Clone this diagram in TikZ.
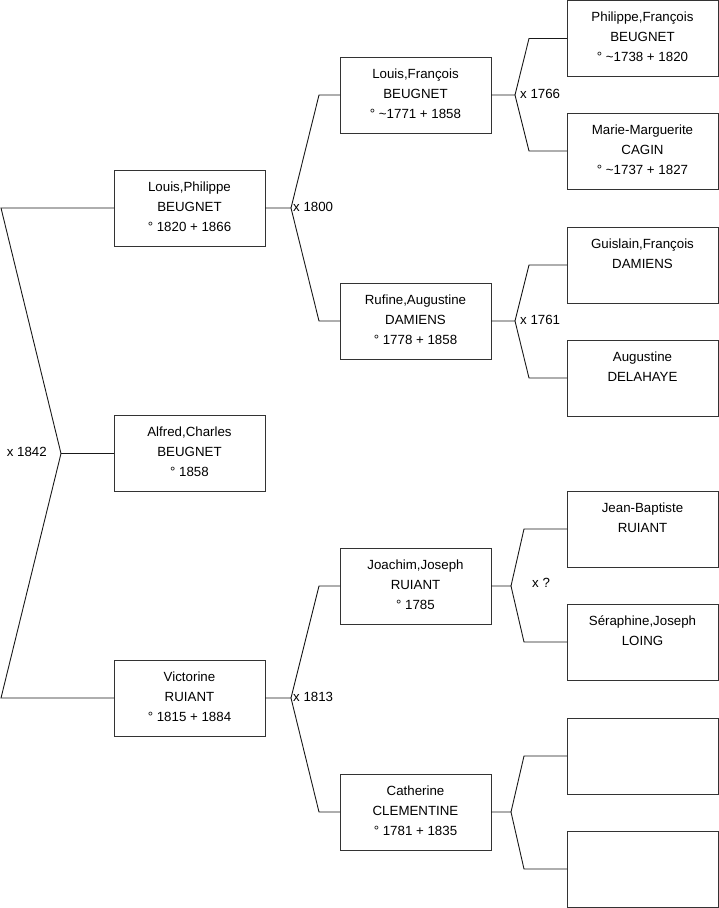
\documentclass[tikz,border=0pt]{standalone}
\usepackage{fontspec}
\setmainfont{Liberation Sans}
\newcommand\persontext[1]{\parbox[t][76pt][t]{151pt}{\centering\rule{0pt}{21pt}#1}}
\begin{document}
\begin{tikzpicture}[x=1pt,y=-1pt,
  person/.style={draw=black!80,line width=0.9pt,inner sep=0pt,outer sep=0pt,
    font=\fontsize{13.3}{20}\selectfont},
  link/.style={draw=black!90,line width=0.9pt},
  marriage/.style={font=\fontsize{13.3}{16}\selectfont,inner sep=0pt}]
\useasboundingbox (0,0) rectangle (719,908);
% column 1
\node[person] (LP) at (189.5,208) {\persontext{Louis,Philippe\\BEUGNET\\° 1820 + 1866}};
\node[person] (AC) at (189.5,453.5) {\persontext{Alfred,Charles\\BEUGNET\\° 1858}};
\node[person] (VR) at (189.5,698) {\persontext{Victorine\\RUIANT\\° 1815 + 1884}};
% column 2
\node[person] (LF) at (415.5,95) {\persontext{Louis,François\\BEUGNET\\° \textasciitilde1771 + 1858}};
\node[person] (RA) at (415.5,321) {\persontext{Rufine,Augustine\\DAMIENS\\° 1778 + 1858}};
\node[person] (JJ) at (415.5,586) {\persontext{Joachim,Joseph\\RUIANT\\° 1785}};
\node[person] (CC) at (415.5,812) {\persontext{Catherine\\CLEMENTINE\\° 1781 + 1835}};
% column 3
\node[person] (PF) at (642.5,38.5) {\persontext{Philippe,François\\BEUGNET\\° \textasciitilde1738 + 1820}};
\node[person] (MM) at (642.5,151) {\persontext{Marie-Marguerite\\CAGIN\\° \textasciitilde1737 + 1827}};
\node[person] (GF) at (642.5,265) {\persontext{Guislain,François\\DAMIENS}};
\node[person] (AD) at (642.5,378) {\persontext{Augustine\\DELAHAYE}};
\node[person] (JB) at (642.5,529) {\persontext{Jean-Baptiste\\RUIANT}};
\node[person] (SJ) at (642.5,642) {\persontext{Séraphine,Joseph\\LOING}};
\node[person] (E1) at (642.5,756) {\persontext{}};
\node[person] (E2) at (642.5,869) {\persontext{}};
% junction coordinates
\coordinate (j0) at (61,453.5);
\coordinate (j0a) at (1,208);
\coordinate (j0b) at (1,698);
\coordinate (j1) at (291,208);
\coordinate (j1a) at (319,95);
\coordinate (j1b) at (319,321);
\coordinate (j2) at (291,698);
\coordinate (j2a) at (319,586);
\coordinate (j2b) at (319,812);
\coordinate (j3) at (515,95);
\coordinate (j3a) at (529,38.5);
\coordinate (j3b) at (529,151);
\coordinate (j4) at (515,321);
\coordinate (j4a) at (529,265);
\coordinate (j4b) at (529,378);
\coordinate (j5) at (511,586);
\coordinate (j5a) at (524,529);
\coordinate (j5b) at (524,642);
\coordinate (j6) at (511,812);
\coordinate (j6a) at (524,756);
\coordinate (j6b) at (524,869);
% connectors
\draw[link] (LP.west) -- (j0a) -- (j0) -- (j0b) -- (VR.west);
\draw[link] (j0) -- (AC.west);
\draw[link] (LP.east) -- (j1) -- (j1a) -- (LF.west);
\draw[link] (j1) -- (j1b) -- (RA.west);
\draw[link] (VR.east) -- (j2) -- (j2a) -- (JJ.west);
\draw[link] (j2) -- (j2b) -- (CC.west);
\draw[link] (LF.east) -- (j3) -- (j3a) -- (PF.west);
\draw[link] (j3) -- (j3b) -- (MM.west);
\draw[link] (RA.east) -- (j4) -- (j4a) -- (GF.west);
\draw[link] (j4) -- (j4b) -- (AD.west);
\draw[link] (JJ.east) -- (j5) -- (j5a) -- (JB.west);
\draw[link] (j5) -- (j5b) -- (SJ.west);
\draw[link] (CC.east) -- (j6) -- (j6a) -- (E1.west);
\draw[link] (j6) -- (j6b) -- (E2.west);
% marriage labels
\node[marriage,anchor=east] (m0) at (47,452) {x 1842};
\node[marriage,anchor=west] (m1) at (293,207) {x 1800};
\node[marriage,anchor=west] (m2) at (293,697) {x 1813};
\node[marriage,anchor=west] (m3) at (520,94) {x 1766};
\node[marriage,anchor=west] (m4) at (520,320) {x 1761};
\node[marriage,anchor=west] (m5) at (532,583) {x ?};
\end{tikzpicture}
\end{document}
